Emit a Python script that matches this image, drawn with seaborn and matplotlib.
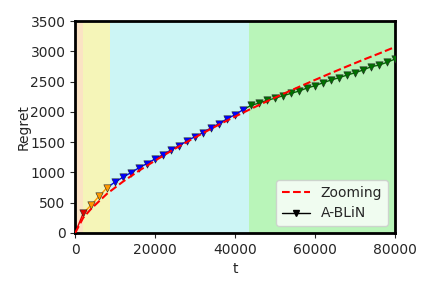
import numpy as np
import pandas as pd
import matplotlib
matplotlib.use("Agg")
import matplotlib.pyplot as plt
from matplotlib.lines import Line2D
import seaborn as sns

# dados
t_zoom = [0, 2000, 4000, 8000, 12000, 16000, 20000, 24000, 28000, 32000, 36000,
          40000, 44000, 48000, 52000, 56000, 60000, 64000, 68000, 72000, 76000, 80000]
r_zoom = [0, 250, 400, 650, 850, 1030, 1195, 1355, 1505, 1650, 1790,
          1922, 2050, 2175, 2295, 2412, 2527, 2640, 2750, 2858, 2962, 3070]

t_ablin = [0, 2000, 4000, 6000, 8000, 10000, 12000, 14000, 16000, 18000, 20000,
           22000, 24000, 26000, 28000, 30000, 32000, 34000, 36000, 38000, 40000,
           42000, 44000, 46000, 48000, 50000, 52000, 54000, 56000, 58000, 60000,
           62000, 64000, 66000, 68000, 70000, 72000, 74000, 76000, 78000, 80000]
r_ablin = [0, 325, 462, 610, 750, 842, 922, 998, 1078, 1147, 1224,
           1295, 1372, 1444, 1518, 1592, 1657, 1738, 1804, 1886, 1952,
           2035, 2106, 2145, 2190, 2225, 2266, 2305, 2343, 2393, 2431,
           2480, 2525, 2563, 2607, 2645, 2690, 2744, 2772, 2817, 2871]

# fases: (inicio, fim) no eixo t e indices dos pontos
fase_limites = [0, 2000, 8750, 43500, 80000]
fase_fundo = ["#fbe3c4", "#f5f5b8", "#ccf5f5", "#b9f5b9"]
fase_cor = ["#e00000", "#ff9900", "#0000ff", "#007000"]
fase_idx = [(0, 1), (1, 4), (4, 21), (21, 40)]

sns.set_style("ticks")
fig, ax = plt.subplots(figsize=(4.32, 2.88), dpi=100)

for i in range(4):
    ax.axvspan(fase_limites[i], fase_limites[i + 1], color=fase_fundo[i], lw=0, zorder=0)

df_ab = pd.DataFrame({"t": t_ablin, "r": r_ablin})
for i, (a, b) in enumerate(fase_idx):
    seg = df_ab.iloc[a:b + 1]
    sns.lineplot(data=seg, x="t", y="r", color=fase_cor[i], lw=1, ax=ax, zorder=2)
    sns.scatterplot(data=seg.iloc[1:], x="t", y="r", color=fase_cor[i], marker="v",
                    s=28, edgecolor="#222222", linewidth=0.4, ax=ax, zorder=3)

sns.lineplot(x=t_zoom, y=r_zoom, color="red", ls="--", lw=1.5, ax=ax, zorder=4)

ax.set_xlim(0, 80000)
ax.set_ylim(0, 3500)
ax.set_xticks([0, 20000, 40000, 60000, 80000])
ax.set_yticks(np.arange(0, 3501, 500))
ax.set_xlabel("t")
ax.set_ylabel("Regret", labelpad=0)
for s in ax.spines.values():
    s.set_linewidth(2)
    s.set_color("black")

handles = [Line2D([], [], color="red", ls="--", lw=1.5),
           Line2D([], [], color="black", lw=1, marker="v", markersize=5)]
ax.legend(handles, ["Zooming", "A-BLiN"], loc="lower right")

fig.subplots_adjust(left=0.174, right=0.914, top=0.927, bottom=0.191)
fig.savefig("out.png", dpi=100)
